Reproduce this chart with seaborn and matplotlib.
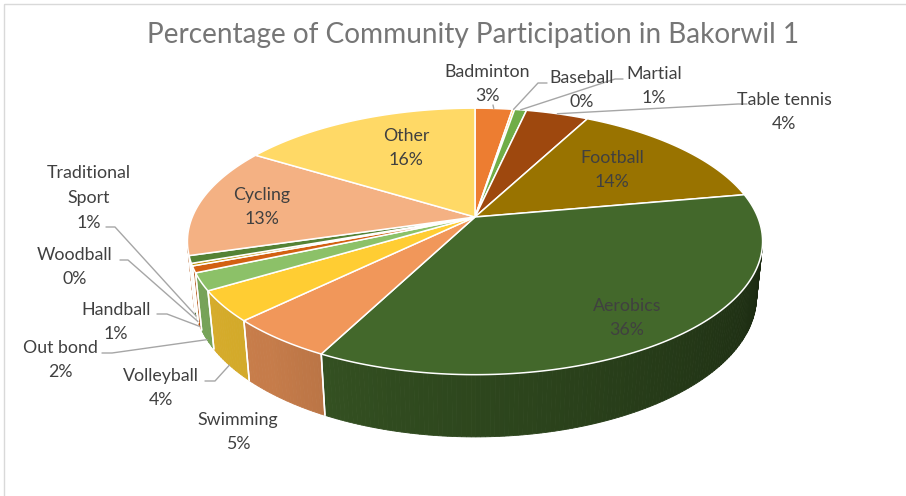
import numpy as np
import matplotlib
matplotlib.use("Agg")
import matplotlib.pyplot as plt
import matplotlib.transforms as mtransforms
from matplotlib.path import Path
from matplotlib.patches import Polygon, Rectangle
import seaborn as sns

# ---------------- data ----------------
categories = ["Badminton", "Baseball", "Martial", "Table tennis", "Football", "Aerobics",
              "Swimming", "Volleyball", "Out bond", "Handball", "Woodball",
              "Traditional\nSport", "Cycling", "Other"]
values = [2.5, 0.15, 0.8, 4.2, 14.5, 35.4, 5.1, 3.7, 2.1, 0.8, 0.3, 0.9, 13.4, 16.2]
pct_labels = ["3%", "0%", "1%", "4%", "14%", "36%", "5%", "4%", "2%", "1%", "0%", "1%", "13%", "16%"]
colors = ["#ED7D31", "#FFC000", "#70AD47", "#9E480E", "#997300", "#43682B",
          "#F1975A", "#FFCD33", "#8CC168", "#D26012", "#BF9000", "#548235",
          "#F4B183", "#FFD966"]
title = "Percentage of Community Participation in Bakorwil 1"

# ---------------- layout (label placement, pixel coords) ----------------
# name: (text x, text y, leader start, leader elbow, leader on wall?)
label_layout = {
    "Badminton": (487, 84, (493, 105), None, False),
    "Baseball": (582, 90, (547, 83), (538, 83), False),
    "Martial": (654, 86, (623, 79), (615, 79), False),
    "Table tennis": (784, 112, (747, 104), (738, 104), False),
    "Football": (612, 170, None, None, False),
    "Aerobics": (627, 318, None, None, False),
    "Swimming": (238, 432, None, None, False),
    "Volleyball": (161, 388, (205, 381), (215, 381), True),
    "Out bond": (60, 360, (102, 353), (112, 353), True),
    "Handball": (116, 322, (157, 314), (167, 314), True),
    "Woodball": (75, 267, (120, 260), (128, 260), True),
    "Traditional\nSport": (89, 198, (106, 227), (115, 227), True),
    "Cycling": (262, 207, None, None, False),
    "Other": (406, 148, None, None, False),
}

# perspective camera
F_LEN, DIST, ALPHA = 1374.0, 4.86, np.radians(27.1)
CX, CY, DEPTH = 475.0, 217.0, 0.22
SA, CA = np.sin(ALPHA), np.cos(ALPHA)


def project(u, w, z):
    s = w * SA + z * CA
    t = DIST + w * CA - z * SA
    return CX + F_LEN * u / t, CY - F_LEN * s / t


class Persp(mtransforms.Transform):
    input_dims = 2
    output_dims = 2
    is_separable = False
    has_inverse = False

    def __init__(self, z=0.0):
        super().__init__()
        self.z = z

    def transform_non_affine(self, values):
        values = np.asarray(values, dtype=float)
        x, y = project(values[:, 0], values[:, 1], self.z)
        return np.column_stack([x, y])

    def transform_path_non_affine(self, path):
        # flatten the curves finely (scale up first so the flattening is dense)
        k = 2000.0
        polys = path.to_polygons(transform=mtransforms.Affine2D().scale(k),
                                 closed_only=True)
        verts = np.concatenate(polys) / k if len(polys) else path.vertices
        return Path(self.transform_non_affine(verts))


sns.set_theme(style="white")
plt.rcParams["font.family"] = ["Lato", "DejaVu Sans"]

fig = plt.figure(figsize=(9.06, 4.96), dpi=100)
ax = fig.add_axes([0, 0, 1, 1])

wedges, _ = ax.pie(values, colors=colors, startangle=90, counterclock=False,
                   radius=1.0, center=(0, 0),
                   wedgeprops=dict(edgecolor="white", linewidth=1.1, antialiased=True))
ax.set_aspect("auto")
ax.set_xlim(0, 906)
ax.set_ylim(496, 0)
ax.axis("off")

persp_top = Persp(0.0) + ax.transData
for w in wedges:
    w.set_transform(persp_top)
    w.set_zorder(3)

# ---- side wall of the 3-D pie ----
sil = np.degrees(np.arcsin(CA / DIST))
vis_lo, vis_hi = 180 + sil, 360 - sil
shade_pts = ([190, 232, 256, 280, 350], [0.86, 0.82, 0.72, 0.65, 0.40])


def darken(c, f):
    r, g, b = matplotlib.colors.to_rgb(c)
    return (r * f, g * f, b * f)


boundaries = []
for w, c in zip(wedges, colors):
    a, b = w.theta1, w.theta2
    for k in (-360, 0, 360, 720):
        lo, hi = max(a + k, vis_lo), min(b + k, vis_hi)
        if hi <= lo:
            continue
        n = max(2, int((hi - lo) / 0.8) + 1)
        ph = np.linspace(lo, hi, n)
        for p0, p1 in zip(ph[:-1], ph[1:]):
            arc = np.radians(np.linspace(p0, p1, 4))
            tx, ty = project(np.cos(arc), np.sin(arc), 0.0)
            bx, by = project(np.cos(arc), np.sin(arc), -DEPTH)
            verts = np.column_stack([np.r_[tx, bx[::-1]], np.r_[ty, by[::-1]]])
            col = darken(c, np.interp((p0 + p1) / 2, *shade_pts))
            ax.add_patch(Polygon(verts, closed=True, facecolor=col, edgecolor=col,
                                 linewidth=0.6, zorder=1))
        for edge in (a + k, b + k):
            if vis_lo < edge < vis_hi:
                boundaries.append(edge)

for e in boundaries:
    r = np.radians(e)
    x0, y0 = project(np.cos(r), np.sin(r), 0.0)
    x1, y1 = project(np.cos(r), np.sin(r), -DEPTH)
    ax.plot([x0, x1], [y0, y1], color="white", linewidth=1.1, zorder=2)

# ---- labels and leader lines ----
txt_color = "#404040"
for w, name, pct in zip(wedges, categories, pct_labels):
    tx, ty, start, elbow, on_wall = label_layout[name]
    ax.text(tx, ty, f"{name}\n{pct}", ha="center", va="center", fontsize=12.8,
            color=txt_color, linespacing=1.66, zorder=6)
    if start is None:
        continue
    mid = np.radians((w.theta1 + w.theta2) / 2)
    ex, ey = project(np.cos(mid), np.sin(mid), -DEPTH if on_wall else 0.0)
    pts = [start] + ([elbow] if elbow else []) + [(ex, ey)]
    xs, ys = zip(*pts)
    ax.plot(xs, ys, color="#A6A6A6", linewidth=1.0, zorder=5)

ax.text(473, 35, title, ha="center", va="center", fontsize=20.2, color="#767676", zorder=6)

# chart frame (only the top/left edges fall inside the image)
ax.add_patch(Rectangle((3.5, 3.5), 1000, 1000, fill=False, edgecolor="#D9D9D9",
                       linewidth=1.0, zorder=0))

fig.savefig("out.png", dpi=100)
